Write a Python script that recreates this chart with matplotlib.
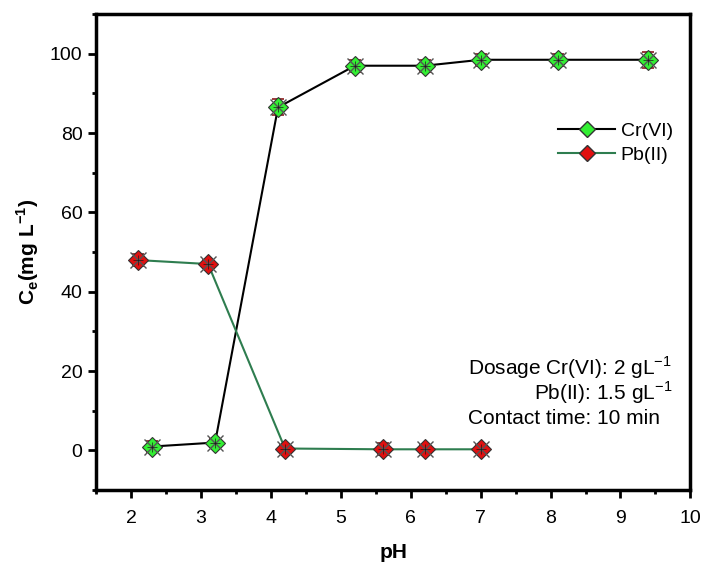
import matplotlib
matplotlib.use("Agg")
import matplotlib.pyplot as plt
from matplotlib.lines import Line2D
import numpy as np

plt.rcParams['font.family'] = ['Liberation Sans', 'DejaVu Sans']

# data
cr_ph = [2.3, 3.2, 4.1, 5.2, 6.2, 7.0, 8.1, 9.4]
cr_ce = [1.0, 2.0, 86.5, 97.0, 97.0, 98.5, 98.5, 98.5]
cr_err = [1.5, 1.0, 2.0, 1.5, 1.5, 1.5, 1.5, 2.0]

pb_ph = [2.1, 3.1, 4.2, 5.6, 6.2, 7.0]
pb_ce = [48.0, 47.0, 0.5, 0.3, 0.3, 0.3]
pb_err = [1.5, 1.0, 1.0, 1.5, 1.0, 1.0]

xticks = [2, 3, 4, 5, 6, 7, 8, 9, 10]
yticks = [0, 20, 40, 60, 80, 100]

fig = plt.figure(figsize=(7.03, 5.66), dpi=100)
ax = fig.add_axes([0.137, 0.134, 0.845, 0.841])

def draw(x, y, err, line_col, face):
    ax.errorbar(x, y, yerr=err, fmt='none', ecolor='#8b1a1a', elinewidth=1,
                capsize=4, capthick=1.2, zorder=2)
    ax.plot(x, y, '-', color=line_col, lw=1.5, zorder=3)
    ax.plot(x, y, 'D', ms=10.5, mfc=face, mec='#333333', mew=0.8, ls='none', zorder=4)
    ax.plot(x, y, 'x', ms=12, mec='#555555', mew=1.0, ls='none', zorder=5)
    ax.plot(x, y, '+', ms=7, mec='#1a1a1a', mew=0.5, ls='none', zorder=6)

draw(cr_ph, cr_ce, cr_err, 'black', '#33ee33')
draw(pb_ph, pb_ce, pb_err, '#2e7d4f', '#e01010')

ax.set_xlim(1.5, 10)
ax.set_ylim(-10, 110)
ax.set_xticks(xticks)
ax.set_yticks(yticks)
ax.set_xticks(np.arange(1.5, 10.01, 0.5), minor=True)
ax.set_yticks(np.arange(-10, 111, 10), minor=True)
ax.tick_params(which='major', direction='out', length=6, width=2, labelsize=14, pad=4)
ax.tick_params(axis='x', which='major', pad=8)
ax.tick_params(which='minor', direction='out', length=3, width=2)
for s in ax.spines.values():
    s.set_linewidth(2.5)

ax.set_xlabel('pH', fontsize=15, fontweight='bold', labelpad=12)
ax.set_ylabel(r'C$_\mathregular{e}$(mg L$^\mathregular{-1}$)', fontsize=15, fontweight='bold', labelpad=6)

handles = [
    Line2D([], [], color='black', lw=1.5, marker='D', ms=8, mfc='#33ee33', mec='#333333'),
    Line2D([], [], color='#2e7d4f', lw=1.5, marker='D', ms=8, mfc='#e01010', mec='#333333'),
]
ax.legend(handles, ['Cr(VI)', 'Pb(II)'], loc='upper right', bbox_to_anchor=(1.0, 0.81),
          frameon=False, fontsize=14, handlelength=2.9, handletextpad=0.3, labelspacing=0.35)

ax.text(0.625, 0.258, r'Dosage Cr(VI): 2 gL$^\mathregular{-1}$', transform=ax.transAxes,
        ha='left', va='center', fontsize=15)
ax.text(0.97, 0.204, r'Pb(II): 1.5 gL$^\mathregular{-1}$', transform=ax.transAxes,
        ha='right', va='center', fontsize=15)
ax.text(0.625, 0.15, 'Contact time: 10 min', transform=ax.transAxes,
        ha='left', va='center', fontsize=15)

fig.savefig('out.png', dpi=100)
